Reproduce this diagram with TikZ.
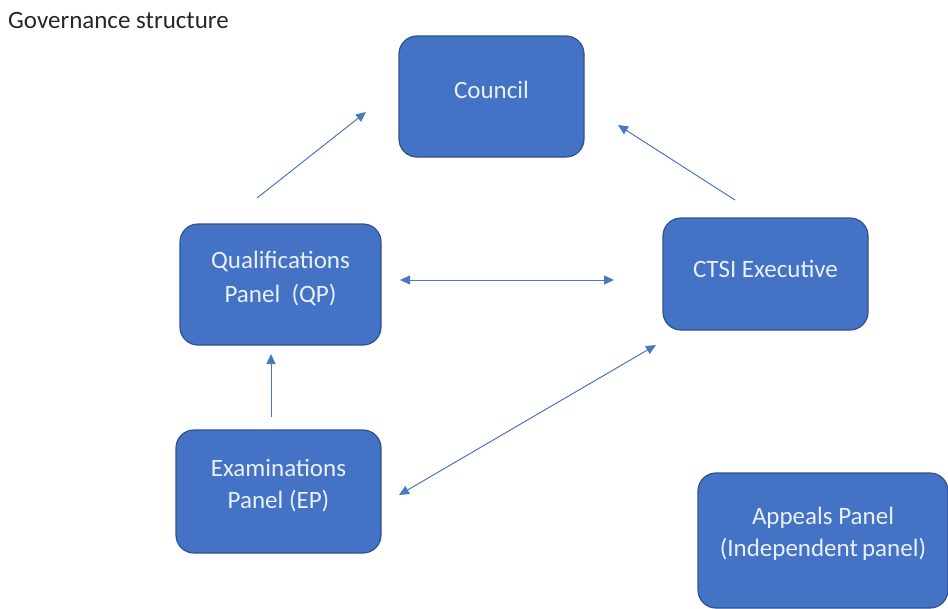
\documentclass[tikz,border=0pt]{standalone}
\usepackage{fontspec}
\setmainfont{Carlito}
\usetikzlibrary{arrows.meta}
\definecolor{boxfill}{HTML}{4472C4}
\definecolor{boxline}{HTML}{2F528F}
\definecolor{arrowc}{HTML}{4A78C0}
\definecolor{boxtext}{HTML}{EAF0FA}
\begin{document}
\begin{tikzpicture}[x=1pt,y=-1pt,
  panel/.style={draw=boxline,line width=1.2pt,fill=boxfill,rounded corners=18pt,inner sep=0pt},
  paneltext/.style={text=boxtext,font=\fontsize{25}{34}\selectfont,align=center,inner sep=0pt},
  conn/.style={draw=arrowc,line width=1pt},
  hd/.style={-{Triangle[length=10pt,width=9pt]}},
  hh/.style={{Triangle[length=10pt,width=9pt]}-{Triangle[length=10pt,width=9pt]}}]
\useasboundingbox (0,0) rectangle (948,608);
\node[anchor=west,text=black!85,font=\fontsize{25}{28}\selectfont,inner sep=0pt] (title) at (8,20) {Governance structure};
\node[panel,minimum width=185pt,minimum height=121pt] (council) at (491.5,96.5) {};
\node[panel,minimum width=201pt,minimum height=121pt] (qp) at (280.5,284.5) {};
\node[panel,minimum width=205pt,minimum height=112pt] (ctsi) at (765.5,274) {};
\node[panel,minimum width=205pt,minimum height=123pt] (ep) at (278.5,491.5) {};
\node[panel,minimum width=250pt,minimum height=135pt] (ap) at (823,540.5) {};
\node[paneltext] (councilT) at ([yshift=7pt]council.center) {Council};
\node[paneltext] (qpT) at ([yshift=6pt]qp.center) {Qualifications\\Panel\ \ (QP)};
\node[paneltext] (ctsiT) at ([yshift=5pt]ctsi.center) {CTSI Executive};
\node[paneltext,font=\fontsize{25}{32}\selectfont] (epT) at ([yshift=6pt]ep.center) {Examinations\\Panel (EP)};
\node[paneltext,font=\fontsize{25}{32}\selectfont] (apT) at ([yshift=7pt]ap.center) {Appeals Panel\\(Independent\,panel)};
\coordinate (a1s) at (257,198); \coordinate (a1e) at (366,112);
\coordinate (a2s) at (735,200); \coordinate (a2e) at (618,125);
\coordinate (a3s) at (400,280); \coordinate (a3e) at (614,280);
\coordinate (a4s) at (271,417); \coordinate (a4e) at (271,354);
\coordinate (a5s) at (399,495); \coordinate (a5e) at (656,345);
\draw[conn,hd] (a1s) -- (a1e);
\draw[conn,hd] (a2s) -- (a2e);
\draw[conn,hh] (a3s) -- (a3e);
\draw[conn,hd] (a4s) -- (a4e);
\draw[conn,hh] (a5s) -- (a5e);
\end{tikzpicture}
\end{document}
